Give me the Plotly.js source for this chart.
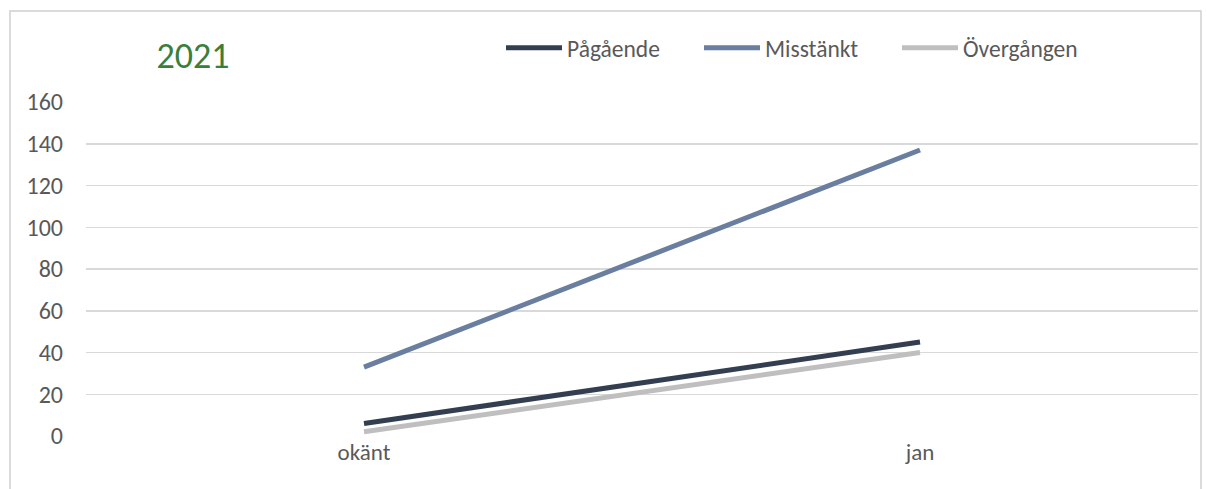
<!DOCTYPE html>
<html>
<head>
<meta charset="utf-8">
<script src="https://cdn.plot.ly/plotly-3.0.1.min.js"></script>
<style>html,body{margin:0;padding:0;background:#fff;}#chart{width:1207px;height:489px;}</style>
</head>
<body>
<div id="chart"></div>
<script>
var categories = ["okänt", "jan"];
var pagaende = [6, 45];
var misstankt = [33, 137];
var overgangen = [2, 40];
var yTicks = [0, 20, 40, 60, 80, 100, 120, 140, 160];

var font = "Carlito, Calibri, 'Liberation Sans', Arial, sans-serif";

var traces = [
  {x: categories, y: pagaende, name: "Pågående", type: "scatter", mode: "lines",
   line: {color: "#333f50", width: 5}, legend: "legend"},
  {x: categories, y: misstankt, name: "Misstänkt", type: "scatter", mode: "lines",
   line: {color: "#6a7fa0", width: 5}, legend: "legend2"},
  {x: categories, y: overgangen, name: "Övergången", type: "scatter", mode: "lines",
   line: {color: "#bfbfbf", width: 5}, legend: "legend3"}
];

function legendAt(px) {
  return {orientation: "h", xref: "container", x: px / 1207, xanchor: "left",
          yref: "container", y: 1 - 48 / 489, yanchor: "middle",
          font: {family: font, size: 23.5, color: "#595959"}, itemwidth: 56,
          bgcolor: "rgba(0,0,0,0)"};
}

var layout = {
  width: 1207, height: 489,
  margin: {l: 86, r: 9, t: 102, b: 53},
  paper_bgcolor: "#fff", plot_bgcolor: "#fff",
  font: {family: font, size: 23, color: "#595959"},
  title: {text: "2021", font: {family: font, size: 36, color: "#38803a"},
          x: 193/1207, xanchor: "center", xref: "container", y: 1 - 55/489, yanchor: "middle"},
  showlegend: true,
  legend: legendAt(501),
  legend2: legendAt(699),
  legend3: legendAt(897),
  xaxis: {type: "category", range: [-0.5, 1.5], showgrid: false, zeroline: false,
          showline: false, ticks: "", tickfont: {size: 23, color: "#595959"}, fixedrange: true},
  yaxis: {range: [0, 160], tickvals: yTicks, showgrid: true, gridcolor: "#d9d9d9", gridwidth: 1.5,
          zeroline: false, showline: false, ticks: "", ticklabelstandoff: 22,
          tickfont: {size: 24, color: "#595959"}, fixedrange: true},
  shapes: [
    {type: "rect", xref: "paper", yref: "paper",
     x0: (10 - 86) / 1112, x1: (1201 - 86) / 1112,
     y0: -0.3, y1: 1 + (102 - 11) / 334,
     line: {color: "#d0d0d0", width: 1.5}, fillcolor: "rgba(0,0,0,0)", layer: "below"}
  ]
};

Plotly.newPlot("chart", traces, layout, {displayModeBar: false, staticPlot: true});
</script>
</body>
</html>
